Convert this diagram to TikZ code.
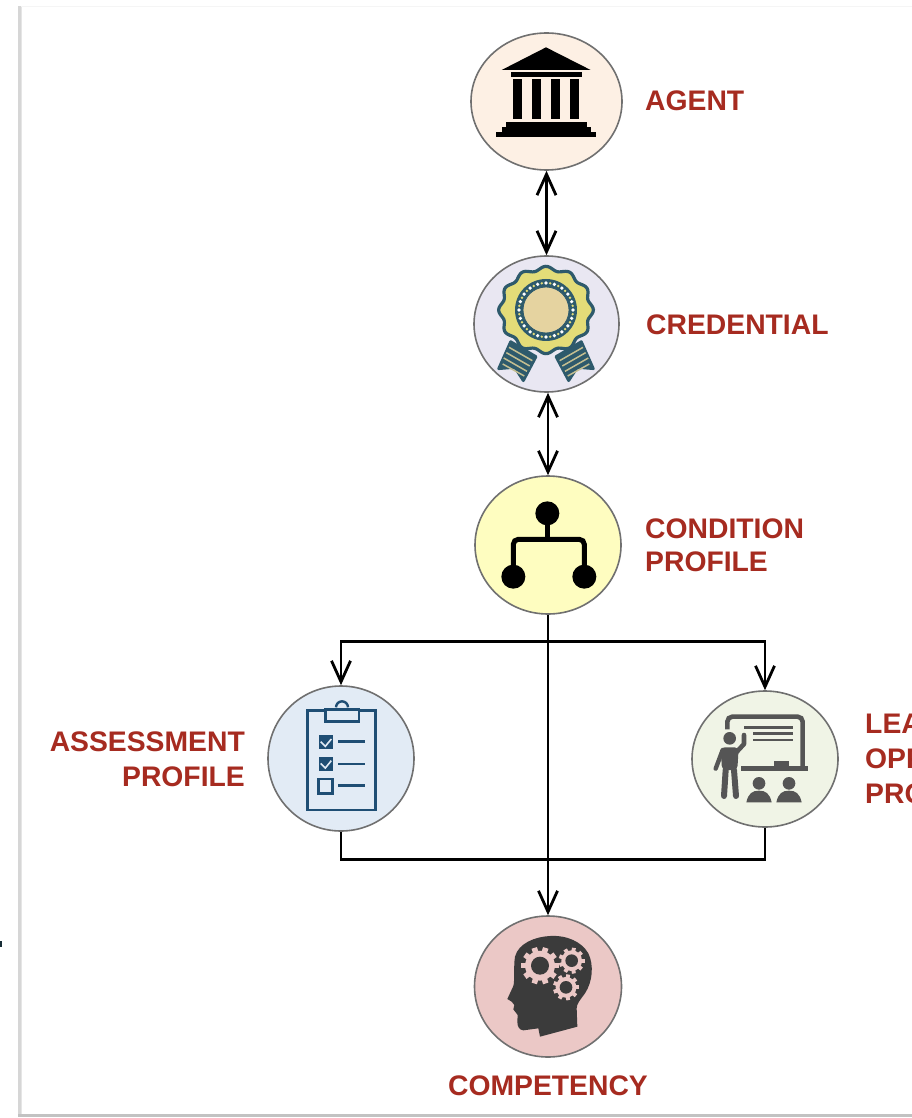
\documentclass[tikz,border=0pt]{standalone}
\usepackage{fontspec}
\setmainfont{Liberation Sans}
\usetikzlibrary{arrows.meta,shapes.geometric,calc}
\definecolor{lab}{HTML}{A62B20}
\definecolor{ring}{HTML}{707070}
\definecolor{teal}{HTML}{2E5A6C}
\definecolor{navy}{HTML}{1F4E74}
\definecolor{slate}{HTML}{555555}
\definecolor{brain}{HTML}{3B3B3B}
\definecolor{fAgent}{HTML}{FDF0E4}
\definecolor{fCred}{HTML}{E9E7F2}
\definecolor{fCond}{HTML}{FEFDC0}
\definecolor{fAss}{HTML}{E2EBF5}
\definecolor{fLearn}{HTML}{F0F4E6}
\definecolor{fComp}{HTML}{EBC8C6}
\definecolor{gold}{HTML}{E3DC78}
\definecolor{tan}{HTML}{E5D3A0}
\definecolor{stripe}{HTML}{C4BE90}
\tikzset{
  disc/.style={ellipse,draw=ring,line width=1.6pt,inner sep=0pt},
  lab/.style={font=\fontsize{28.3}{34}\selectfont\bfseries,text=lab,inner sep=0pt},
  link/.style={draw=black,line width=2.8pt},
  tipped/.style={link,>={Straight Barb[length=21pt,width=19pt]}},
}
\newcommand{\cogwheel}[5]{% cx cy outer hole teeth
  \fill[fComp] (#1,#2) circle[radius=#3*0.8];
  \foreach \a in {1,...,#5}{
    \fill[fComp,shift={(#1,#2)},rotate=\a*360/#5] (#3*0.7,-#3*0.15) rectangle (#3,#3*0.15);
  }
  \fill[brain] (#1,#2) circle[radius=#4];
}
\begin{document}
\begin{tikzpicture}[x=1pt,y=-1pt]
\useasboundingbox (0,0) rectangle (912,1118);
\fill[white] (0,0) rectangle (912,1118);
% page frame
\fill[black!4] (18,6) rectangle (912,7);
\fill[black!16] (18,6) rectangle (21,1117);
\fill[black!24] (18,1114) rectangle (912,1117);
\fill[black!10] (21,7) rectangle (22,1114);
\fill[teal!50!black] (0,941) rectangle (2,947);

% circles
\node[disc,fill=fAgent,minimum width=151pt,minimum height=137pt] (agent) at (546.5,101.5) {};
\node[disc,fill=fCred,minimum width=145pt,minimum height=136pt] (credential) at (546.5,324) {};
\node[disc,fill=fCond,minimum width=146pt,minimum height=138pt] (condition) at (548,545) {};
\node[disc,fill=fAss,minimum width=146pt,minimum height=145pt] (assessment) at (341,758.5) {};
\node[disc,fill=fLearn,minimum width=146pt,minimum height=136pt] (learning) at (765,759) {};
\node[disc,fill=fComp,minimum width=147pt,minimum height=141pt] (competency) at (548,986.5) {};

% connectors
\coordinate (bus) at (548,641.5);
\coordinate (join) at (548,859.5);
\draw[tipped,<->] (agent) -- (credential);
\draw[tipped,<->] (condition.north |- credential.south) -- (condition.north);
\draw[tipped,->] (condition.south) -- (competency.north);
\draw[tipped,->] (bus) -| (assessment.north);
\draw[tipped,->] (bus) -| (learning.north);
\draw[link] (assessment.south) |- (join);
\draw[link] (learning.south) |- (join);

% labels
\node[lab,anchor=base west] (tAgent) at (645,111) {AGENT};
\node[lab,anchor=base west] (tCred) at (646,334) {CREDENTIAL};
\node[lab,anchor=base west] (tCond1) at (645,538) {CONDITION};
\node[lab,anchor=base west] (tCond2) at (645,571) {PROFILE};
\node[lab,anchor=base east] (tAss1) at (245,751) {ASSESSMENT};
\node[lab,anchor=base east] (tAss2) at (245,786) {PROFILE};
\node[lab,anchor=base west] (tLea1) at (865,733) {LEA};
\node[lab,anchor=base west] (tLea2) at (865,768) {OPP};
\node[lab,anchor=base west] (tLea3) at (865,803) {PRO};
\node[lab,anchor=base] (tComp) at (548,1095) {COMPETENCY};

% agent + credential icons, in 3x zoom coordinates
\begin{scope}[shift={(440,20)},scale=1/3]
  \fill[black] (318,82) -- (452,150) -- (185,150) -- cycle;
  \fill[black] (212,155) rectangle (425,172);
  \foreach \c in {220,277,333,390}{\fill[black] (\c,178) rectangle (\c+27,298);}
  \fill[black] (198,305) rectangle (440,322);
  \fill[black] (185,322) rectangle (453,336);
  \fill[black] (168,336) rectangle (467,352);
  % ribbons
  \foreach \m/\s in {0/1,636/-1}{
    \begin{scope}[shift={(\m,0)},xscale=\s]
      \filldraw[fill=teal,draw=teal,line width=2.8pt,line join=round]
        (212,965) -- (288,1010) -- (250,1082) -- (224,1042) -- (176,1046) -- cycle;
      \draw[stripe,line width=1.5pt] (207,982) -- (277,1022) (199,998) -- (269,1038) (191,1014) -- (261,1054) (188,1032) -- (253,1068);
    \end{scope}
  }
  \filldraw[fill=gold,draw=teal,line width=3.2pt]
    plot[domain=0:360,samples=144,smooth cycle] ({318+(136+6*cos(12*\x))*cos(\x)},{870+(125+6*cos(12*\x))*sin(\x)});
  \fill[teal] (318,870) circle[radius=93];
  \foreach \a in {0,18,...,342}{
    \fill[white] ($(318,870)+(\a:81)$) circle[radius=5.5];
  }
  \foreach \a in {9,27,...,351}{
    \fill[gold] ($(318,870)+(\a:81)$) circle[radius=4];
  }
  \filldraw[fill=tan,draw=teal,line width=.8pt] (318,870) circle[radius=69];
\end{scope}

% condition icon
\begin{scope}[shift={(470,470)},scale=1/3]
  \draw[black,line width=5pt,rounded corners=5pt] (130,320) -- (130,208) -- (343,208) -- (343,320);
  \draw[black,line width=5pt] (232,130) -- (232,208);
  \foreach \p in {(232,130),(130,320),(343,320)}{\fill[black] \p circle[radius=36];}
\end{scope}

% assessment icon
\begin{scope}[shift={(260,670)},scale=1/3]
  \draw[navy,line width=2.8pt] (143,122) rectangle (347,420);
  \draw[navy,line width=2.4pt] (228,112) arc[start angle=180,end angle=360,radius=18];
  \filldraw[fill=fAss,draw=navy,line width=2.6pt] (197,118) rectangle (297,155);
  \foreach \y in {195,260}{
    \fill[navy] (176,\y) rectangle (218,\y+43);
    \draw[fAss,line width=1.6pt] (182,\y+20) -- (196,\y+34) -- (214,\y+12);
  }
  \draw[navy,line width=2.6pt] (176,327) rectangle (218,370);
  \foreach \y in {215,282,347}{\draw[navy,line width=2.4pt] (235,\y) -- (315,\y);}
\end{scope}

% learning icon
\begin{scope}[shift={(680,670)},scale=1/3]
  \draw[slate,line width=4.6pt,rounded corners=5pt] (142,178) -- (142,140) -- (368,140) -- (368,295);
  \draw[slate,line width=4.4pt] (183,295) -- (385,295);
  \fill[slate] (283,292) -- (283,272) -- (327,272) -- (327,292) -- cycle;
  \draw[slate,line width=2.4pt] (192,172) -- (338,172) (220,190) -- (338,190) (220,210) -- (338,210);
  \fill[slate] (149,205) circle[radius=19];
  \fill[slate,rounded corners=4pt] (122,232) -- (176,232) -- (172,300) -- (126,300) -- cycle;
  \draw[slate,line width=4.6pt,line cap=round,line join=round] (168,248) -- (192,222) -- (192,195);
  \draw[slate,line width=4.4pt,line cap=round] (128,240) -- (107,296);
  \draw[slate,line width=6pt,line cap=round] (137,300) -- (132,378);
  \draw[slate,line width=6pt,line cap=round] (162,300) -- (168,378);
  \foreach \c in {237,327}{
    \fill[slate] (\c,340) circle[radius=19];
    \fill[slate] (\c-38,397) .. controls (\c-32,370) and (\c-20,362) .. (\c,362) .. controls (\c+20,362) and (\c+32,370) .. (\c+38,397) -- cycle;
  }
\end{scope}

% competency icon
\begin{scope}[shift={(460,900)},scale=1/3]
  \fill[brain] (270,108) .. controls (320,105) and (365,125) .. (385,160)
    .. controls (402,195) and (398,245) .. (375,280)
    .. controls (360,300) and (350,312) .. (350,325)
    -- (352,380) -- (240,410) -- (235,385) -- (190,391)
    .. controls (178,390) and (172,380) .. (172,365)
    -- (173,345) -- (160,328) -- (163,315) -- (155,305) -- (142,297)
    -- (160,258)
    .. controls (165,240) and (160,200) .. (165,170)
    .. controls (175,130) and (225,110) .. (270,108) -- cycle;
  \cogwheel{240}{197}{56}{27}{10}
  \cogwheel{335}{182}{39}{19}{9}
  \cogwheel{318}{262}{39}{19}{9}
\end{scope}
\end{tikzpicture}
\end{document}
